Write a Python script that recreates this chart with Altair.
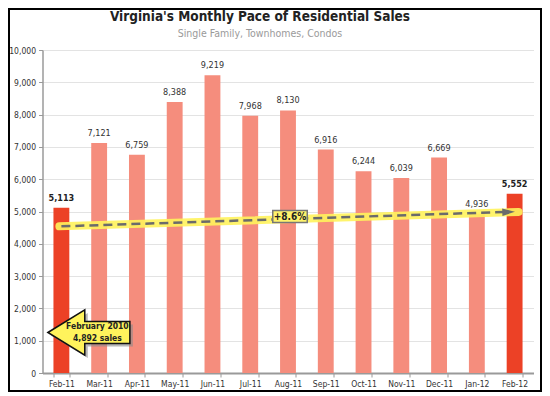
import altair as alt
import pandas as pd

months = ["Feb-11", "Mar-11", "Apr-11", "May-11", "Jun-11", "Jul-11", "Aug-11",
          "Sep-11", "Oct-11", "Nov-11", "Dec-11", "Jan-12", "Feb-12"]
sales = [5113, 7121, 6759, 8388, 9219, 7968, 8130, 6916, 6244, 6039, 6669, 4936, 5552]
highlight = [True, False, False, False, False, False, False, False, False, False, False, False, True]

trend_from = ["Feb-11"]
trend_to = ["Feb-12"]
trend_start = [4540]
trend_end = [4985]
trend_label = ["+8.6%"]
trend_label_month = ["Aug-11"]
trend_label_value = [4845]

callout_month = ["Feb-11"]
callout_value = [1254]
callout_text = ["February 2010\n4,892 sales"]

title_text = ["Virginia's Monthly Pace of Residential Sales"]
subtitle_text = ["Single Family, Townhomes, Condos"]

FONT = "DejaVu Sans Condensed"
LIGHT = "#F58D7D"
DARK = "#EC4126"
YELLOW = "#FFF35C"

df = pd.DataFrame({"month": months, "sales": sales, "hl": highlight})
df["label"] = df["sales"].map(lambda v: f"{v:,}")

trend_df = pd.DataFrame({"m1": trend_from, "m2": trend_to, "v1": trend_start, "v2": trend_end})
tl_df = pd.DataFrame({"month": trend_label_month, "v": trend_label_value, "t": trend_label})
co_df = pd.DataFrame({"month": callout_month, "v": callout_value, "t": callout_text})
ti_df = pd.DataFrame({"t": title_text, "s": subtitle_text})

W, H = 491, 323

xscale = alt.Scale(domain=months, paddingInner=0.58, paddingOuter=0.29)
xaxis = alt.Axis(labelAngle=0, tickBand="extent", domainColor="#9a9a9a",
                 domainWidth=2, tickColor="#9a9a9a", tickSize=4,
                 labelFontSize=8.5, labelColor="#333", labelPadding=2,
                 labelFont=FONT)
yscale = alt.Scale(domain=[0, 10000])
yaxis = alt.Axis(values=list(range(0, 10001, 1000)),
                 labelExpr="format(datum.value, ',')",
                 domainColor="#9a9a9a", domainWidth=1.5, tickColor="#9a9a9a",
                 tickSize=4, labelFontSize=8.5, labelColor="#333",
                 labelPadding=3, labelFont=FONT,
                 gridColor="#E3E3E3", gridWidth=1)


def X(f):
    return alt.X(f, type="nominal", scale=xscale, axis=xaxis, title=None)


def Y(f):
    return alt.Y(f, type="quantitative", scale=yscale, axis=yaxis, title=None)


base = alt.Chart(df)
bars = base.mark_bar().encode(
    x=X("month"), y=Y("sales"),
    color=alt.condition("datum.hl", alt.value(DARK), alt.value(LIGHT)),
)
lab_norm = base.transform_filter("!datum.hl").mark_text(
    dy=-5, baseline="bottom", fontSize=9, color="#333", font=FONT
).encode(x=X("month"), y=Y("sales"), text="label:N")
lab_bold = base.transform_filter("datum.hl").mark_text(
    dy=-5, baseline="bottom", fontSize=9, color="#222", font=FONT, fontWeight="bold"
).encode(x=X("month"), y=Y("sales"), text="label:N")

tbase = alt.Chart(trend_df)
glow = tbase.mark_rule(color=YELLOW, strokeWidth=8, opacity=0.9, strokeCap="round",
                       xOffset=-2, x2Offset=4).encode(
    x=X("m1"), x2=alt.X2("m2"), y=Y("v1"), y2=alt.Y2("v2"))
dash = tbase.mark_rule(color="#6b6b6b", strokeWidth=2.5, strokeDash=[9, 5],
                       x2Offset=-10).encode(
    x=X("m1"), x2=alt.X2("m2"), y=Y("v1"), y2=alt.Y2("v2"))
head = tbase.mark_point(shape="M -1 -0.6 L 1 0 L -1 0.6 Z", size=160, filled=True,
                        color="#6b6b6b", opacity=1, angle=358, xOffset=-6).encode(
    x=X("m2"), y=Y("v2"))

tl_box = alt.Chart(tl_df).mark_point(
    shape="M -1 -0.35 L 1 -0.35 L 1 0.35 L -1 0.35 Z", size=1190, filled=True,
    fill="#FFF36B", stroke="#777", strokeWidth=1.5, opacity=1, xOffset=2
).encode(x=X("month"), y=Y("v"))
tl_text = alt.Chart(tl_df).mark_text(
    fontSize=10, fontWeight="bold", color="#222", font=FONT, dx=2
).encode(x=X("month"), y=Y("v"), text="t:N")

ARROW = "M -1 0 L -0.1 -0.55 L -0.1 -0.27 L 1 -0.27 L 1 0.27 L -0.1 0.27 L -0.1 0.55 Z"
co_shadow = alt.Chart(co_df).mark_point(
    shape=ARROW, size=6724, filled=True, color="#8a8a8a", opacity=0.6,
    xOffset=30.5, yOffset=3
).encode(x=X("month"), y=Y("v"))
co_arrow = alt.Chart(co_df).mark_point(
    shape=ARROW, size=6724, filled=True, fill=YELLOW, stroke="#111",
    strokeWidth=1.5, opacity=1, xOffset=27.5
).encode(x=X("month"), y=Y("v"))
co_text = alt.Chart(co_df).mark_text(
    fontSize=8.5, fontWeight="bold", color="#222", font=FONT, dx=36, dy=-6,
    lineBreak="\n", lineHeight=12
).encode(x=X("month"), y=Y("v"), text="t:N")

title = alt.Chart(ti_df).mark_text(
    font=FONT, fontSize=13.5, fontWeight="bold", color="#222", align="center",
    baseline="middle"
).encode(x=alt.value(W / 2 - 28), y=alt.value(-33), text="t:N")
subtitle = alt.Chart(ti_df).mark_text(
    font=FONT, fontSize=10.5, color="#9a9a9a", align="center", baseline="middle"
).encode(x=alt.value(W / 2 - 28), y=alt.value(-16.5), text="s:N")

frame = alt.Chart(ti_df).mark_rect(fill=None, stroke="#000", strokeWidth=2).encode(
    x=alt.value(-33.5), x2=alt.value(W + 7.5), y=alt.value(-41), y2=alt.value(H + 18))

chart = alt.layer(
    bars, glow, dash, head, tl_box, tl_text, lab_norm, lab_bold,
    co_shadow, co_arrow, co_text, title, subtitle, frame
).properties(
    width=W, height=H,
    autosize=alt.AutoSizeParams(type="none"),
    padding={"left": 34.5, "top": 42, "right": 8.5, "bottom": 19},
).configure_view(stroke=None)

chart.save("out.html", embed_options={"renderer": "svg", "actions": False})
